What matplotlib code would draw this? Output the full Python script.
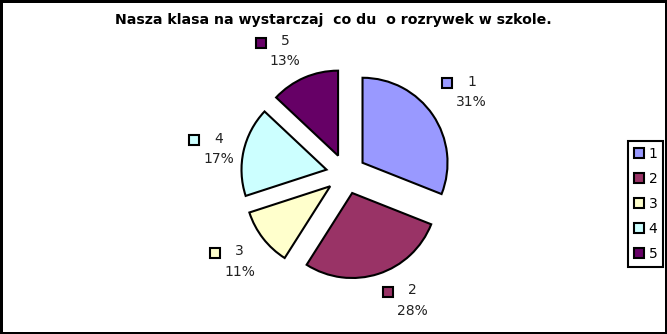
import numpy as np
import matplotlib
matplotlib.use("Agg")
import matplotlib.pyplot as plt

plt.rcParams['font.family'] = ['DejaVu Sans']

# data
categories = ["1", "2", "3", "4", "5"]
percents = [31, 28, 11, 17, 13]
colors = ["#9999FF", "#993366", "#FFFFCC", "#CCFFFF", "#660066"]
title = "Nasza klasa na wystarczaj  co du  o rozrywek w szkole."

W, H = 667, 334
CX, CY = 346, 174   # pie centre in pixels (from top-left)
R = 85              # radius in pixels
R_LABEL = 115       # label anchor distance from the centre, px
KEY, GAP = 12, 3    # key square size and gap to text, px

fig = plt.figure(figsize=(W / 100, H / 100), dpi=100)
fig.patch.set_edgecolor("black")
fig.patch.set_linewidth(2.5)

ax = fig.add_axes([0, 0, 1, 1])
wedges, _ = ax.pie(percents, colors=colors, startangle=90, counterclock=False,
                   explode=[0.235] * len(percents), radius=1,
                   wedgeprops=dict(edgecolor="black", linewidth=1.5))

ax.set_aspect("auto")
ax.set_xlim(-CX / R, (W - CX) / R)
ax.set_ylim(-(H - CY) / R, CY / R)
ax.axis("off")

fig.canvas.draw()
renderer = fig.canvas.get_renderer()

# labels: small colour key + category, percentage below.
# the box corner facing the pie sits on the mid-angle ray
for w, cat, pct, col in zip(wedges, categories, percents, colors):
    mid = np.deg2rad((w.theta1 + w.theta2) / 2)
    c, s = np.cos(mid), np.sin(mid)
    t = ax.text(0, 0, f"{cat}\n{pct}%", ha="center", va="center",
                fontsize=10, color="#222222", linespacing=1.6)
    bb = t.get_window_extent(renderer)
    bw, bh = KEY + GAP + bb.width, bb.height
    axp, ayp = R_LABEL * c, R_LABEL * s
    fx = 0.0 if c > 0.25 else (1.0 if c < -0.25 else 0.5)
    fy = 0.0 if s > 0.3 else (1.0 if s < -0.3 else 0.5)
    left = axp - fx * bw
    bottom = ayp - fy * bh
    t.set_position(((left + KEY + GAP + bb.width / 2) / R, (bottom + bh / 2) / R))
    ax.plot((left + KEY / 2) / R, (bottom + bh * 0.75) / R, marker="s",
            markersize=7, markerfacecolor=col, markeredgecolor="black",
            markeredgewidth=1.5, linestyle="none")

fig.text(333 / W, 1 - 20 / H, title, ha="center", va="center",
         fontsize=10.2, fontweight="bold")

leg = fig.legend(wedges, categories, loc="center right",
                 bbox_to_anchor=(663 / W, 1 - 204 / H), fontsize=10,
                 handlelength=0.75, handleheight=0.75, handletextpad=0.3,
                 labelspacing=0.8, borderpad=0.4, borderaxespad=0,
                 fancybox=False, framealpha=1)
leg.get_frame().set_edgecolor("black")
leg.get_frame().set_linewidth(1.5)

fig.savefig("out.png", dpi=100)
